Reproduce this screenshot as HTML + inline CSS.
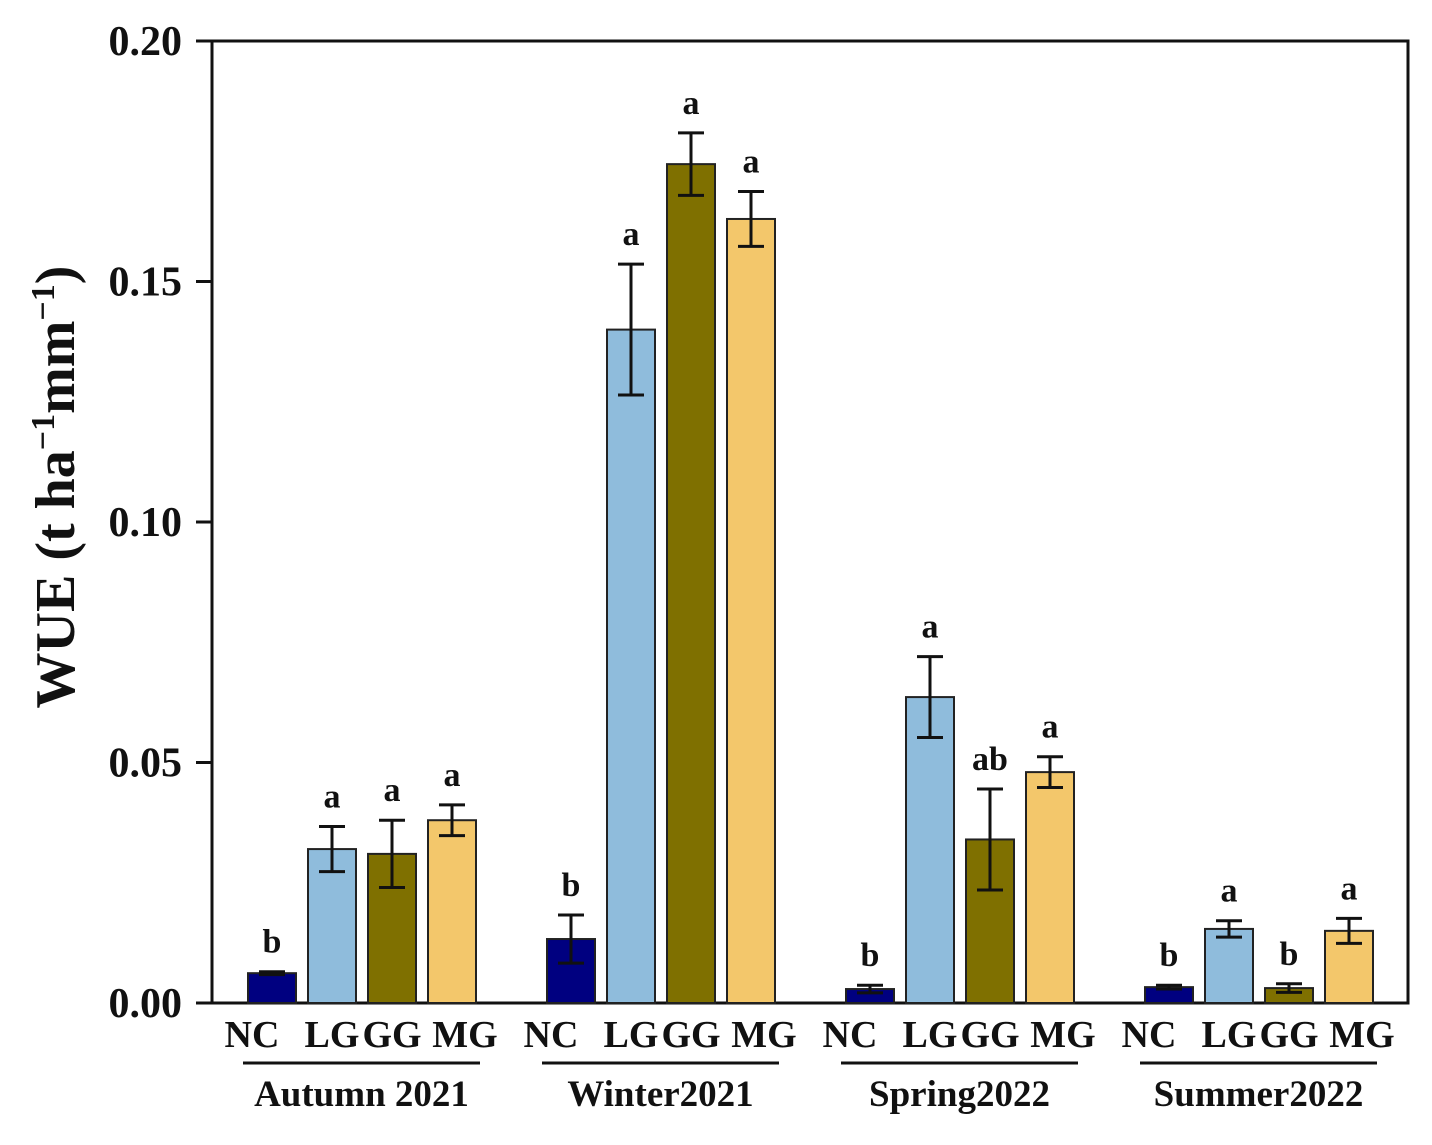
<!DOCTYPE html>
<html><head><meta charset="utf-8"><style>
body{margin:0;background:#fff;}
svg text{font-family:"Liberation Serif",serif;font-weight:bold;fill:#111;}
</style></head><body>
<svg width="1432" height="1140" viewBox="0 0 1432 1140" xmlns="http://www.w3.org/2000/svg">
<g id="plot"></g>
<text transform="translate(74,487) rotate(-90)" text-anchor="middle" font-size="56">WUE (t ha<tspan dy="-20" font-size="34">−1</tspan><tspan dy="20">mm</tspan><tspan dy="-20" font-size="34">−1</tspan><tspan dy="20">)</tspan></text>
</svg>
<script>
const seasons=["Autumn 2021","Winter2021","Spring2022","Summer2022"];
const treatments=["NC","LG","GG","MG"];
const colors=["#000080","#8fbcdc","#7f7000","#f3c76b"];
const values=[[0.0062,0.032,0.031,0.038],[0.0133,0.140,0.1744,0.163],[0.0029,0.0636,0.034,0.048],[0.0033,0.0154,0.0031,0.015]];
const errors=[[0.0003,0.0047,0.007,0.0032],[0.005,0.0136,0.0065,0.0057],[0.0008,0.0084,0.0105,0.0032],[0.0004,0.0017,0.0009,0.0026]];
const letters=[["b","a","a","a"],["b","a","a","a"],["b","a","ab","a"],["b","a","b","a"]];
const yTicks=[0,0.05,0.10,0.15,0.20];
const yTickLabels=["0.00","0.05","0.10","0.15","0.20"];
const NS="http://www.w3.org/2000/svg";
const g=document.getElementById('plot');
const L=212,R=1408,T=41,B=1003;
const y=v=>B-(v/0.2)*(B-T);
const groupStart=[248,547,846,1145],step=60,bw=48;
const labelShift=[-20,0,0,13];
function mk(tag,attrs,parent){const e=document.createElementNS(NS,tag);for(const k in attrs)e.setAttribute(k,attrs[k]);(parent||g).appendChild(e);return e;}
const frame=mk('rect',{x:L,y:T,width:R-L,height:B-T,fill:'none',stroke:'#111','stroke-width':3});


yTicks.forEach((t,i)=>{
  const ln=mk('line',{x1:196,x2:L,y1:y(t),y2:y(t),stroke:'#111','stroke-width':3});
  
  
  const tx=mk('text',{x:182,y:y(t)+14,'text-anchor':'end','font-size':42});
  tx.textContent=yTickLabels[i];
  
  
});
seasons.forEach((s,si)=>{
  treatments.forEach((tr,ti)=>{
    const v=values[si][ti],e=errors[si][ti];
    const x0=groupStart[si]+ti*step,cx=x0+bw/2;
    const r=mk('rect',{x:x0,y:y(v),width:bw,height:B-y(v),fill:colors[ti],stroke:'#222','stroke-width':2});
    
    
    const eg=mk('path',{d:`M${cx},${y(v+e)}V${y(v-e)}M${cx-13},${y(v+e)}H${cx+13}M${cx-13},${y(v-e)}H${cx+13}`,stroke:'#111','stroke-width':3,fill:'none'});
    
    
    const lt=mk('text',{x:cx,y:y(v+e)-19,'text-anchor':'middle','font-size':34});
    lt.textContent=letters[si][ti];
    
    
    const xl=mk('text',{x:cx+labelShift[ti],y:1047,'text-anchor':'middle','font-size':38});
    xl.textContent=tr;
    
    
  });
  const gx1=groupStart[si]-5,gx2=groupStart[si]+3*step+bw+4;
  const ul=mk('line',{x1:gx1,x2:gx2,y1:1063,y2:1063,stroke:'#111','stroke-width':3});
  
  
  const gl=mk('text',{x:(gx1+gx2)/2,y:1106,'text-anchor':'middle','font-size':37});
  gl.textContent=s;
  
  
});
</script>
</body></html>
